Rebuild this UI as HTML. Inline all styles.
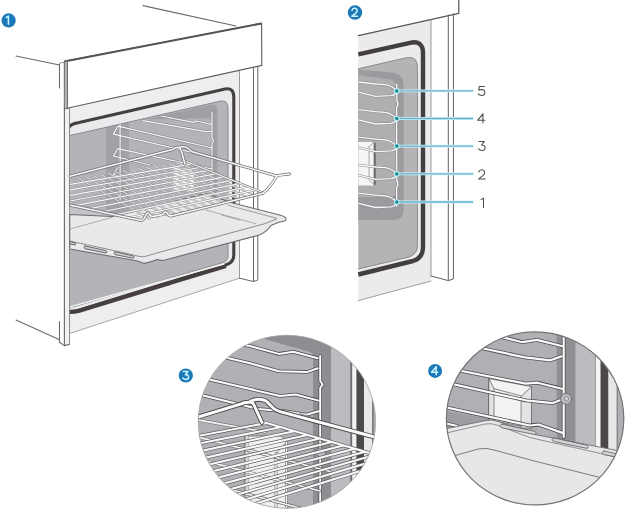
<!DOCTYPE html>
<html><head><meta charset="utf-8"><style>
html,body{margin:0;padding:0;background:#fff;}
body{width:625px;height:510px;overflow:hidden;font-family:"Liberation Sans",sans-serif;}
svg{display:block;}
</style></head><body>
<svg width="625" height="510" viewBox="0 0 625 510">
<defs>
  <clipPath id="cav1"><path d="M66 138 Q68 135.2 76 134.2 L220 101.2 Q228 99.6 228 108 L228 256 Q228 261 223 262.5 L76 306 Q68 308.2 66 307 Z"/></clipPath>
  <clipPath id="cav2"><path d="M358.3 68.8 L406 57.8 Q417.4 55.5 417.4 67 L417.4 246 Q417.4 254 409 257 L358.3 269 Z"/></clipPath>
  <clipPath id="c3"><ellipse cx="286.9" cy="421.8" rx="88.7" ry="86.5"/></clipPath>
  <clipPath id="c4"><ellipse cx="535.1" cy="418.45" rx="88.7" ry="86.5"/></clipPath>
</defs>
<rect width="625" height="510" fill="#fff"/>

<!-- ===== OVEN 1 ===== -->
<g id="oven1" fill="none" stroke-linejoin="round" stroke-linecap="round">
  <g stroke="#6a6a6a" stroke-width="1.1">
    <path d="M143 5.6 L236 26"/>
    <path d="M16 56 L59.5 65 M59.5 64 L59.5 88"/>
    <path d="M16 320 L59 339.5 M59.5 321.5 L59.5 342.3 L64.4 345.6"/>
  </g>
  <path d="M69.5 108.5 L239.5 70.3 L239.5 278.2 L69.5 333.5 Z" fill="#eeeeef" stroke="none"/>
  <g stroke="#7a7a7a" stroke-width="1">
    <path d="M239.5 278.2 L239.5 70.3" stroke="#999"/>
    <path d="M69.5 333.5 L239.5 278.2" stroke="#a8a8aa"/>
    <path d="M239.5 278.2 L253.5 281.5 L257.8 280 L257.8 66.5 M253.5 67 L253.5 281.5" stroke="#666"/>
  </g>
  <!-- gasket with light inner band -->
  <path d="M66 134 Q66.5 124.5 78 122.8 L225 89 Q233.8 87.2 233.8 97 L233.8 255 Q233.8 262 227 264.5 L78 310.5 Q68 313.5 66 310 Z" fill="#eaeaec" stroke="#45403f" stroke-width="3.1"/>
  <path d="M66 311.2 Q70 312.6 78.5 311 L170 283.1" fill="none" stroke="#45403f" stroke-width="4.2" stroke-linecap="butt"/>
  <path d="M168 283.7 L226 266.2" fill="none" stroke="#45403f" stroke-width="3.5" stroke-linecap="butt"/>
  <!-- cavity -->
  <g clip-path="url(#cav1)">
    <rect x="60" y="90" width="180" height="230" fill="#b4b3b8"/>
    <path d="M106 124 L129 119 L129 240 L106 245 Z" fill="#a3a2a7"/>
    <path d="M146 119.6 L210 104.8 Q217.4 103.2 217.4 111 L217.4 215 L212 215 L212 124 Q212 118 206 118.2 L146 119.6 Z" fill="#a09fa4"/>
  </g>
  <path d="M66 138 Q68 135.2 76 134.2 L220 101.2 Q228 99.6 228 108 L228 256 Q228 261 223 262.5 L76 306 Q68 308.2 66 307" stroke="#8a8a8e" stroke-width="1" fill="none"/>
  <path d="M68 307.4 L224 264" stroke="#f4f4f4" stroke-width="1.3"/>
  <path d="M64.4 108.5 H69.5 V344.4 L64.4 345.6 Z" fill="#f2f2f2"/>
  <path d="M64.4 108 L64.4 345.6 L69.5 344.4" stroke="#707070" stroke-width="1.2"/>
  <path d="M69.5 344.4 L69.5 108.5" stroke="#8a8a8a" stroke-width="1"/>
</g>

<!-- runners oven1 -->
<g clip-path="url(#cav1)" stroke-linecap="round" stroke-linejoin="round">
  <path d="M173 166 L190 168.5 L194.5 173 L194.5 192 L173 190 Z" fill="#f0f0f1" stroke="#9a9a9d" stroke-width="0.7"/>
  <path id="o1r" fill="none" d="M161 116 L193.2 122.4 Q196 120.5 199 121.5 L212 124.6 M143 120.6 L207.6 131.8 L212 131 M120.1 124 L120.1 200 M212 112 L212 138 L213.5 141 L212 144 L212 192 M117.9 126.2 L212 148 M117.9 126.2 L113.4 134.1 L212 157 M117.9 148.6 L212 169 M117.9 148.6 L113.4 156 L150 165 M117.9 167.5 L113.4 174.5 L125 177.5"/>
  <use href="#o1r" stroke="#8d8d91" stroke-width="2.5"/>
  <use href="#o1r" stroke="#f6f6f6" stroke-width="1.2"/>
</g>

<!-- tray -->
<g stroke-linejoin="round" stroke-linecap="round">
  <path d="M69.7 205 L141.8 220.6 L112 216.5 L69.7 214.5 Z" fill="#c3c3c7"/>
  <path d="M69.7 214.5 L112 216.5 L150 208 L205 193.5 L230.7 202.5 L279.6 215 Q288 217 285.4 220.7 Q278 222 271 225.5 Q267 232 258 235.4 L163 260.5 L157.1 259.6 Q152 262 144.3 263.4 L136.6 260.8 L69.7 249 Z" fill="#e9e9eb" stroke="#6c6c6f" stroke-width="1.1"/>
  <path d="M69.7 241 L120 251.9 L139.2 256.4 Q142.5 257.2 146 256.2 L160 252.1 L265 223.6 Q272 221 276.7 218.8" fill="none" stroke="#848487" stroke-width="0.9"/>
  <path d="M69.7 229.1 L112 217.4 M205.7 210 L255.6 223.6 M221.4 215 L240 220.1" fill="none" stroke="#9c9c9f" stroke-width="0.8"/>
  <path d="M228 205.2 L276.5 218.2" fill="none" stroke="#8a8a8d" stroke-width="0.8"/>
  <g fill="#cdcdd0" stroke="#5f5f62" stroke-width="0.9">
    <path d="M85 246 L106 250.6 Q108.5 252 106 253 L85 248.8 Q82.5 247.3 85 246 Z"/>
    <path d="M115 251.8 L133 255.8 Q135.5 257.2 133 258.2 L115 254.6 Q112.5 253.2 115 251.8 Z"/>
    <path d="M70 241.6 L75 242.8 Q77 244 75 245 L70 244 Z"/>
  </g>
</g>

<!-- rack -->
<defs><clipPath id="rg"><path d="M70 178 L185 159.5 L264 193 L141.8 221.5 L70 205.5 Z"/></clipPath></defs>
<g fill="none" stroke-linecap="round" stroke-linejoin="round">
  <g clip-path="url(#rg)">
    <path id="gw" fill="none" d="M70.0 184.3 L191.9 164.2 M70.0 189.8 L199.7 167.5 M70.0 195.3 L207.6 170.7 M70.0 201.0 L215.5 173.9 M70.0 206.7 L223.3 177.2 M70.0 212.6 L231.2 180.4 M70.0 218.5 L239.1 183.6 M70.0 224.5 L247.0 186.8 M70.0 230.6 L254.8 190.1"/>
    <path id="gd" fill="none" d="M77.6 177.8 L149.9 218.8 M85.2 176.6 L157.9 217.0 M92.8 175.4 L166.0 215.1 M100.4 174.2 L174.0 213.3 M108.0 173.0 L182.1 211.5 M115.6 171.8 L190.2 209.7 M123.2 170.6 L198.2 207.9 M130.8 169.4 L206.3 206.0 M138.4 168.2 L214.3 204.2 M146.0 167.0 L222.4 202.4 M153.6 165.8 L230.5 200.6 M161.2 164.6 L238.5 198.8 M168.8 163.4 L246.6 196.9 M176.4 162.2 L254.6 195.1"/>
    <use href="#gd" stroke="#939397" stroke-width="1.9"/>
    <use href="#gd" stroke="#efeff0" stroke-width="0.9"/>
    <use href="#gw" stroke="#8e8e92" stroke-width="2.1"/>
    <use href="#gw" stroke="#f8f8f8" stroke-width="1.2"/>
  </g>
  <path id="rr2" fill="none" d="M184 160.5 L262.7 192.5"/>
  <use href="#rr2" stroke="#7a7a7e" stroke-width="2.4"/>
  <use href="#rr2" stroke="#f6f6f6" stroke-width="1.2"/>
  <path id="rr" fill="none" d="M70 176.2 L173.4 149.2 M173.4 149.2 Q176 146.5 179 147.5 Q181.5 149 183.6 159.2 L185 164 M178.5 147.7 Q186 144.5 191.3 151.5 L276.8 176 Q280 174.8 289.6 174 M70.8 205.3 L140 220.2 Q144 221 146 214.5 Q147.5 211.5 149.5 214.5 Q151 217 154 216.4 L163 214.4 Q165 210.5 167 213 Q168.5 216.5 172 215.8 L262.7 193.3 Q270 188 276.8 176"/>
  <use href="#rr" stroke="#707074" stroke-width="3"/>
  <use href="#rr" stroke="#f8f8f8" stroke-width="1.6"/>
</g>

<!-- control panel -->
<g stroke-linejoin="round">
  <path d="M65 61 L261.6 23.4 L261.8 65.4 L66 108.5 Z" fill="#fff" stroke="#5a5a5a" stroke-width="1.1"/>
  <path d="M64.3 61.5 L261.6 23.4" stroke="#555" stroke-width="2"/>
  <path d="M64.3 62 L67.4 60.5 L67.6 108.6 L64.3 108.6 Z" fill="#b4b4b4" stroke="#5e5e5e" stroke-width="0.9"/>
  <path d="M59.5 63.5 L61.5 62.6 L64.3 62.6" fill="none" stroke="#777" stroke-width="0.9"/>
</g>

<!-- ===== OVEN 2 ===== -->
<g id="oven2" stroke-linejoin="round" stroke-linecap="round">
  <path d="M358.3 35.6 L431 19.5 L431 281 L358.3 300.6 Z" fill="#ebebeb"/>
  <path d="M358.3 35.6 L458.8 13.3 L458.8 0" fill="none" stroke="#555" stroke-width="1.2"/>
  <g stroke="#7a7a7a" stroke-width="1" fill="none">
    <path d="M358.3 300.6 L431 281" stroke="#a0a0a2"/>
    <path d="M431 20 L431 276" stroke="#999"/>
    <path d="M431 276 L448.3 280.6 L453.4 279 L453.4 14 M448.3 15 L448.3 280.6" stroke="#606060"/>
  </g>
  <path d="M358.3 54.4 L410 42.8 Q423 40 423 53 L423 247 Q423 258 413 261 L358.3 274.5" fill="none" stroke="#433e3f" stroke-width="4.4" stroke-linecap="butt"/>
  <g clip-path="url(#cav2)">
    <rect x="355" y="50" width="70" height="230" fill="#b4b4b4"/>
    <path d="M358 69.6 L392 72.5 Q403.7 73.5 403.7 86 L403.7 210 Q403.7 220 393 220 L358 220 Z" fill="#9b9a9f"/>
    <path d="M358 75 L390.7 79.4 Q396.2 80.2 396.2 88 L396.2 192 Q396.2 197 391 197 L358 197 Z" fill="#afafb0"/>
    <!-- bracket -->
    <path d="M358 142 L374 142 L374 185.6 L358 185.6 Z" fill="#f5f5f5"/>
    <path d="M373.6 142.3 L375.8 143.5 L375.8 184.5 L373.6 185.6 Z" fill="#6d6d6f"/>
    <path d="M369.1 146.8 L373.8 142 M369.1 146.8 L369.1 179.7 L373.8 184.4" fill="none" stroke="#8f8f92" stroke-width="0.8"/>
  </g>
  <path d="M358.3 68.8 L406 57.8 Q417.4 55.5 417.4 67 L417.4 246 Q417.4 254 409 257 L358.3 269" fill="none" stroke="#8a8a8e" stroke-width="1"/>
  <g clip-path="url(#cav2)">
  <path id="o2w" fill="none" d="M358.4 82.0 L375.6 84.0 L385.2 84.7 Q392 85.9 396.8 90.9 M358.4 92.2 L375.6 96.4 L390.7 95.7 Q395 95.2 396.5 92.4 M358.4 109.6 L375.6 111.6 L385.2 112.3 Q392 113.5 396.8 118.5 M358.4 119.8 L375.6 124.0 L390.7 123.3 Q395 122.8 396.5 120.0 M358.4 137.2 L375.6 139.2 L385.2 139.9 Q392 141.1 396.8 146.1 M358.4 147.4 L375.6 151.6 L390.7 150.9 Q395 150.4 396.5 147.6 M358.4 165.0 L375.6 167.0 L385.2 167.7 Q392 168.9 396.8 173.9 M358.4 175.2 L375.6 179.4 L390.7 178.7 Q395 178.2 396.5 175.4 M358.4 193.1 L375.6 195.1 L385.2 195.8 Q392 197.0 396.8 202.0 M358.4 203.3 L375.6 207.5 L390.7 206.8 Q395 206.3 396.5 203.5 M396.8 84 L396.8 100 L398 104 L396.6 108 L396.8 180 L398 184.5 L396.6 188 L396.8 206"/>
  <use href="#o2w" stroke="#8a8a8e" stroke-width="2.4"/>
  <use href="#o2w" stroke="#fafafa" stroke-width="1.3"/>
  </g>
</g>

<!-- labels oven2 -->
<g font-family="Liberation Sans, sans-serif" font-size="15" fill="#333">
  <path id="tl" d="M396.8 90.9 H473.3 M396.8 118.5 H473.3 M396.8 146.1 H473.3 M396.8 173.9 H473.3 M396.8 202 H473.3" fill="none"/>
  <use href="#tl" stroke="#d2f1f8" stroke-width="2.8"/>
  <use href="#tl" stroke="#66b2cc" stroke-width="1.3"/>
  <g fill="#1a8593" stroke="#b4f0f6" stroke-width="1.1">
    <circle cx="396.8" cy="90.9" r="2.3"/><circle cx="396.8" cy="118.5" r="2.3"/><circle cx="396.8" cy="146.1" r="2.3"/><circle cx="396.8" cy="173.9" r="2.3"/><circle cx="396.8" cy="202" r="2.3"/>
  </g>
  <g fill="none" stroke="#4a4a4a" stroke-width="1.05" stroke-linecap="round" stroke-linejoin="round">
    <path transform="translate(477.8,85.9)" d="M6.5 0.5 H1.5 L1 4.4 C2 3.7 3 3.5 3.9 3.5 C5.8 3.6 7 4.9 7 6.6 C7 8.4 5.6 9.6 3.7 9.6 C2.3 9.6 1.2 9 0.4 8"/>
    <path transform="translate(477.4,113.4)" d="M5.5 9.6 V0.4 L0.2 6.9 H7.4"/>
    <path transform="translate(478.1,140.9)" d="M0.9 0.5 H6.3 L3.3 4.1 C5.4 3.9 7 5 7 6.8 C7 8.5 5.6 9.6 3.8 9.6 C2.4 9.6 1.2 9 0.4 8"/>
    <path transform="translate(478.1,169.6)" d="M0.7 2.4 C1.1 1.1 2.2 0.2 3.7 0.2 C5.5 0.2 6.6 1.3 6.6 2.8 C6.6 4.1 5.9 4.9 4.7 6 L0.6 9.3 H7.1"/>
    <path transform="translate(480.6,197.8)" d="M0.4 1.8 L2.9 0.3 V9.6"/>
  </g>
</g>

<!-- ===== CIRCLE 3 ===== -->
<g clip-path="url(#c3)" stroke-linecap="round" stroke-linejoin="round">
  <rect x="190" y="330" width="200" height="180" fill="#b1b0b5"/>
  <path d="M240 330 L264 338.8 L310 352 Q313 353 313 357 L313 512 L331 512 L331 330 Z" fill="#8e8d92"/>
  <rect x="331" y="330" width="19.3" height="182" fill="#bcbbc0"/>
  <rect x="350.3" y="330" width="2" height="182" fill="#707072"/>
  <rect x="352.3" y="330" width="4.2" height="182" fill="#f3f3f3"/>
  <rect x="356.5" y="330" width="7.5" height="182" fill="#4d4849"/>
  <rect x="364" y="330" width="8.2" height="182" fill="#e8e8e8"/>
  <rect x="372.2" y="330" width="1.4" height="182" fill="#6e6e70"/>
  <!-- bracket -->
  <path d="M245 436 L281 436 L287 442 L287 512 L245 512 Z" fill="#efeff0" stroke="#6d6d70" stroke-width="0.8"/>
  <path d="M276 453.7 L286 442.5" fill="none" stroke="#6d6d70" stroke-width="0.8"/>
  <path id="c3v" fill="none" d="M247 436 V512 M276 453.7 V512 M286.5 442 V512"/>
  <use href="#c3v" stroke="#6a6a6d" stroke-width="2.8"/>
  <use href="#c3v" stroke="#f4f4f4" stroke-width="1.6"/>
  <!-- runner wires -->
  <g fill="none">
    <path id="c3w" fill="none" d="M195 337 L250 346 L278.8 353.9 L293.2 351.7 L317.7 358.2 M215 355 L250 363.3 L278.8 371.2 L307.6 371.9 L317.7 368.3 M200 377.3 L280 396 L295.6 394.5 L318.5 400.6 M200 394.8 L258.6 409 L285 411.2 L306.2 414.8 L318.5 411.2 M320.2 356 L320.2 381 L322.6 384.5 L320.2 388 L320.2 512"/>
  </g>
  <use href="#c3w" stroke="#4d4d50" stroke-width="3.6"/>
  <use href="#c3w" stroke="#fbfbfb" stroke-width="2"/>
  <!-- screw -->
  <circle cx="321" cy="452.5" r="4.6" fill="#b9b9bd" stroke="#6a6a6d" stroke-width="0.8"/>
  <!-- grid cross wires -->
  <path id="c3x" fill="none" d="M198 420 L265 432 M196 436.5 L330 471.5 M196 458.5 L320 491 M196 480.5 L300 508 M300 415 L340 428"/>
  <use href="#c3x" stroke="#6a6a6d" stroke-width="3"/>
  <use href="#c3x" stroke="#f2f2f2" stroke-width="1.8"/>
  <!-- grid wires -->
  <path id="c3g" fill="none" d="M264 422.3 L385 457.5 M195 436.6 L266.1 423.1 M195 444.4 L280.4 427.2 M195 452.2 L294.1 431.2 M195 460.0 L307.2 435.0 M195 467.8 L319.7 438.6 M195 475.6 L331.7 442.1 M195 483.4 L343.2 445.5 M195 491.2 L354.3 448.7 M195 499.0 L365.0 451.8 M195 506.8 L375.2 454.7 M195 514.6 L385.1 457.6 M195 522.4 L394.6 460.3"/>
  <use href="#c3g" stroke="#5d5d60" stroke-width="3.4"/>
  <use href="#c3g" stroke="#f9f9f9" stroke-width="2.1"/>
  <!-- rack rails -->
  <path id="c3r" fill="none" d="M190 419.5 L242.9 403.4 M242.9 403 L250.5 402 Q253 402.5 254 405 L262 422.5 M250.8 401.2 Q258.6 397.5 266.4 401.2 L273.2 408 Q276 410.5 280 411.6 L380 438.5"/>
  <use href="#c3r" stroke="#4a4a4d" stroke-width="4.8"/>
  <use href="#c3r" stroke="#fbfbfb" stroke-width="3"/>
</g>
<ellipse cx="286.9" cy="421.8" rx="88.7" ry="86.5" fill="none" stroke="#a4a4a6" stroke-width="0.8"/>

<!-- ===== CIRCLE 4 ===== -->
<g clip-path="url(#c4)" stroke-linecap="round" stroke-linejoin="round">
  <rect x="440" y="328" width="190" height="182" fill="#b0afb3"/>
  <rect x="556.7" y="328" width="19" height="120" fill="#908f94"/>
  <rect x="575.5" y="328" width="20.3" height="125" fill="#bcbbc0"/>
  <rect x="595.8" y="328" width="5" height="125" fill="#f6f6f6" stroke="#8a8a8a" stroke-width="0.7"/>
  <rect x="600.8" y="328" width="7.6" height="125" fill="#4b4647"/>
  <rect x="608.4" y="328" width="8.4" height="128" fill="#e6e6e6"/>
  <path d="M617.2 328 V456" stroke="#777" stroke-width="1" fill="none"/>
  <!-- floor shadow left -->
  <path d="M440 410 L490 419 L490 426 L440 432 Z" fill="#9e9da2"/>
  <!-- bracket -->
  <path d="M489 378.6 L531.5 386.6 L531.5 428 L489 420 Z" fill="#f3f3f3" stroke="#6a6a6d" stroke-width="0.8"/>
  <path d="M489 378.6 L494 388.7 L494 420 L489 420 Z" fill="#e3e3e3" stroke="#6a6a6d" stroke-width="0.8"/>
  <path d="M521.4 396 L531.5 386.6 L531.5 428 L521.4 428 Z" fill="#e3e3e3" stroke="#6a6a6d" stroke-width="0.8"/>
  <path d="M494 388.7 L521.4 396" fill="none" stroke="#6a6a6d" stroke-width="0.8"/>
  <!-- runner wires -->
  <path id="c4w" fill="none" d="M495 336 L505.5 337.9 L522.4 342.2 L537 339.9 L561.6 346 M474 346.5 L525 357.4 L550.5 360.3 L561.3 356.4 M452 369 L525.7 383.7 L537.3 382.7 L561.8 388.7 M446 382.5 L525.7 400.3 L553 403.1 L561.8 399.5 M444 407 L530 425.5 L538.6 424.5 L563.1 433.1 M444 423 L457 426 M563.7 328 L563.7 437"/>
  <use href="#c4w" stroke="#4d4d50" stroke-width="3.8"/>
  <use href="#c4w" stroke="#fbfbfb" stroke-width="2.2"/>
  <!-- screw -->
  <circle cx="566.1" cy="398.8" r="5.6" fill="#b7b6bb" stroke="#666" stroke-width="0.8"/>
  <circle cx="566.6" cy="398.8" r="2" fill="#d8d8d8" stroke="#777" stroke-width="0.6"/>
  <!-- tray -->
  <path d="M440 430 L486 420.5 Q492 419 498 421.5 L535 434.5 L630 453 L630 512 L440 512 Z" fill="#e7e7e9" stroke="#6f6f72" stroke-width="0.9"/>
  <path d="M440 434.5 L485 424 Q491 423 497 425 L530 437.6 L625 459" fill="none" stroke="#7a7a7d" stroke-width="0.8"/>
  <path d="M452 456.5 L478.1 449 Q486 447.3 494 450 L535 461.2 L630 485" fill="none" stroke="#6f6f72" stroke-width="0.9"/>
  <g fill="#d6d6d8" stroke="#6a6a6d" stroke-width="0.9">
    <path d="M502 424.2 L534 431.2 Q538 433 535 434.6 L502 427.8 Q498 425.8 502 424.2 Z"/>
    <path d="M554 438 L586 445 Q590 447 587 448.4 L554 441.6 Q550 439.6 554 438 Z"/>
    <path d="M604 451 L620 454.5 Q623 456.5 620 457.8 L604 454.6 Q600 452.6 604 451 Z"/>
  </g>
</g>
<ellipse cx="535.1" cy="418.45" rx="88.7" ry="86.5" fill="none" stroke="#747476" stroke-width="1.2"/>

<!-- badges -->
<g>
  <circle cx="8.6" cy="20.4" r="7.1" fill="#1c78b6"/>
  <path transform="translate(5.9,15.9) scale(0.87)" d="M0.4 1.8 L2.9 0.3 V9.6" fill="none" stroke="#c6f3ff" stroke-width="1.8" stroke-linecap="round" stroke-linejoin="round"/>
  <circle cx="355" cy="12.55" r="7.2" fill="#1c78b6"/>
  <path transform="translate(351.4,8.1) scale(0.87)" d="M0.7 2.4 C1.1 1.1 2.2 0.2 3.7 0.2 C5.5 0.2 6.6 1.3 6.6 2.8 C6.6 4.1 5.9 4.9 4.7 6 L0.6 9.3 H7.1" fill="none" stroke="#c6f3ff" stroke-width="1.8" stroke-linecap="round" stroke-linejoin="round"/>
  <circle cx="185.8" cy="375.5" r="7.1" fill="#1c78b6"/>
  <path transform="translate(182.5,371.1) scale(0.87)" d="M0.9 0.5 H6.3 L3.3 4.1 C5.4 3.9 7 5 7 6.8 C7 8.5 5.6 9.6 3.8 9.6 C2.4 9.6 1.2 9 0.4 8" fill="none" stroke="#c6f3ff" stroke-width="1.8" stroke-linecap="round" stroke-linejoin="round"/>
  <circle cx="435.1" cy="370.9" r="7.0" fill="#1c78b6"/>
  <path transform="translate(431.4,366.3) scale(0.87)" d="M5.5 9.6 V0.4 L0.2 6.9 H7.4" fill="none" stroke="#c6f3ff" stroke-width="1.8" stroke-linecap="round" stroke-linejoin="round"/>
</g>
</svg>
</body></html>
